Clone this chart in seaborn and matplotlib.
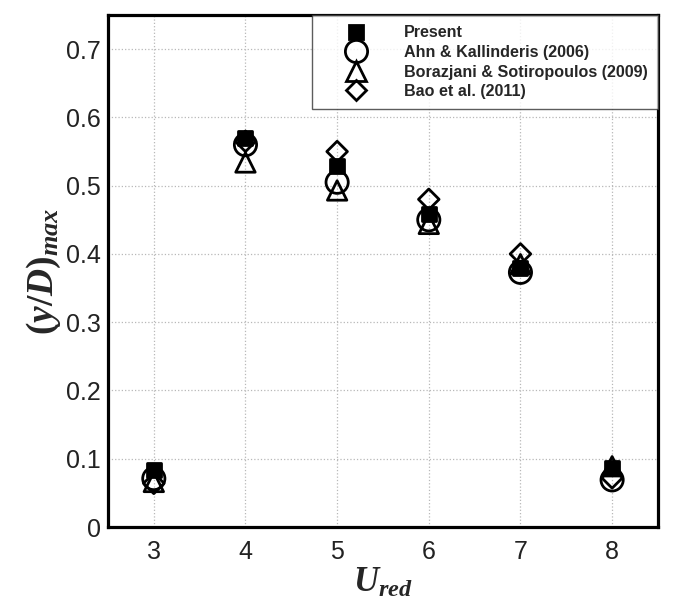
import matplotlib
matplotlib.use("Agg")
import matplotlib.pyplot as plt
import seaborn as sns
import pandas as pd
from matplotlib.lines import Line2D

# reduced velocity
u_red = [3, 4, 5, 6, 7, 8]

# (y/D)max for each source
present = [0.083, 0.570, 0.529, 0.459, 0.380, 0.086]
ahn = [0.071, 0.560, 0.505, 0.450, 0.373, 0.069]
borazjani = [0.066, 0.534, 0.493, 0.444, 0.385, 0.089]
bao = [0.064, 0.565, 0.550, 0.480, 0.400, 0.072]

labels = ["Present", "Ahn & Kallinderis (2006)",
          "Borazjani & Sotiropoulos (2009)", "Bao et al. (2011)"]

sns.set_style("white")
plt.rcParams["font.family"] = ["Liberation Sans", "DejaVu Sans"]
plt.rcParams["mathtext.fontset"] = "custom"
plt.rcParams["mathtext.it"] = "Liberation Serif:italic:bold"
plt.rcParams["mathtext.rm"] = "Liberation Serif:bold"
plt.rcParams["mathtext.bf"] = "Liberation Serif:bold"

fig = plt.figure(figsize=(6.86, 6.08), dpi=100)
ax = fig.add_axes([0.1574, 0.1332, 0.8017, 0.8421])

df = pd.DataFrame({"u": u_red, "present": present, "ahn": ahn,
                   "bor": borazjani, "bao": bao})

# marker, size (pt), face
mk_style = {
    "present": ("s", 10, "black"),
    "ahn": ("o", 16, "none"),
    "bor": ("^", 14, "none"),
    "bao": ("D", 10.5, "none"),
}
# open markers first, filled square on top
for col in ["bor", "ahn", "bao", "present"]:
    mk, ms, fc = mk_style[col]
    sns.scatterplot(data=df, x="u", y=col, ax=ax, marker=mk, s=ms ** 2,
                    facecolor=fc, edgecolor="black", linewidth=2, zorder=3,
                    legend=False)

ax.set_xlim(2.5, 8.5)
ax.set_ylim(0, 0.75)
ax.set_xticks(u_red)
ax.set_yticks([0, 0.1, 0.2, 0.3, 0.4, 0.5, 0.6, 0.7])
ax.set_yticklabels(["0", "0.1", "0.2", "0.3", "0.4", "0.5", "0.6", "0.7"])
ax.tick_params(labelsize=18, length=0, colors="#222222")
ax.tick_params(axis="y", pad=5)
ax.tick_params(axis="x", pad=9)
ax.grid(True, color="#b8b8b8", linestyle=":", linewidth=0.9)
for sp in ax.spines.values():
    sp.set_visible(True)
    sp.set_color("black")
    sp.set_linewidth(2.3)

ax.set_xlabel(r"$U_{red}$", fontsize=25, labelpad=2)
ax.set_ylabel(r"$(y/D)_{max}$", fontsize=27, labelpad=2)

handles = []
for col in ["present", "ahn", "bor", "bao"]:
    mk, ms, fc = mk_style[col]
    handles.append(Line2D([], [], marker=mk, ls="none", ms=ms, mfc=fc,
                          mec="black", mew=2))
leg = ax.legend(handles, labels, loc="upper right", frameon=True, fancybox=False,
                borderaxespad=0, labelspacing=0.28, handletextpad=0.85,
                borderpad=0.65, prop={"weight": "bold", "size": 11.6},
                handlelength=4.2)
leg.get_frame().set_edgecolor("#333333")
leg.get_frame().set_linewidth(1.0)
leg.set_zorder(5)

fig.savefig("out.png", dpi=100)
